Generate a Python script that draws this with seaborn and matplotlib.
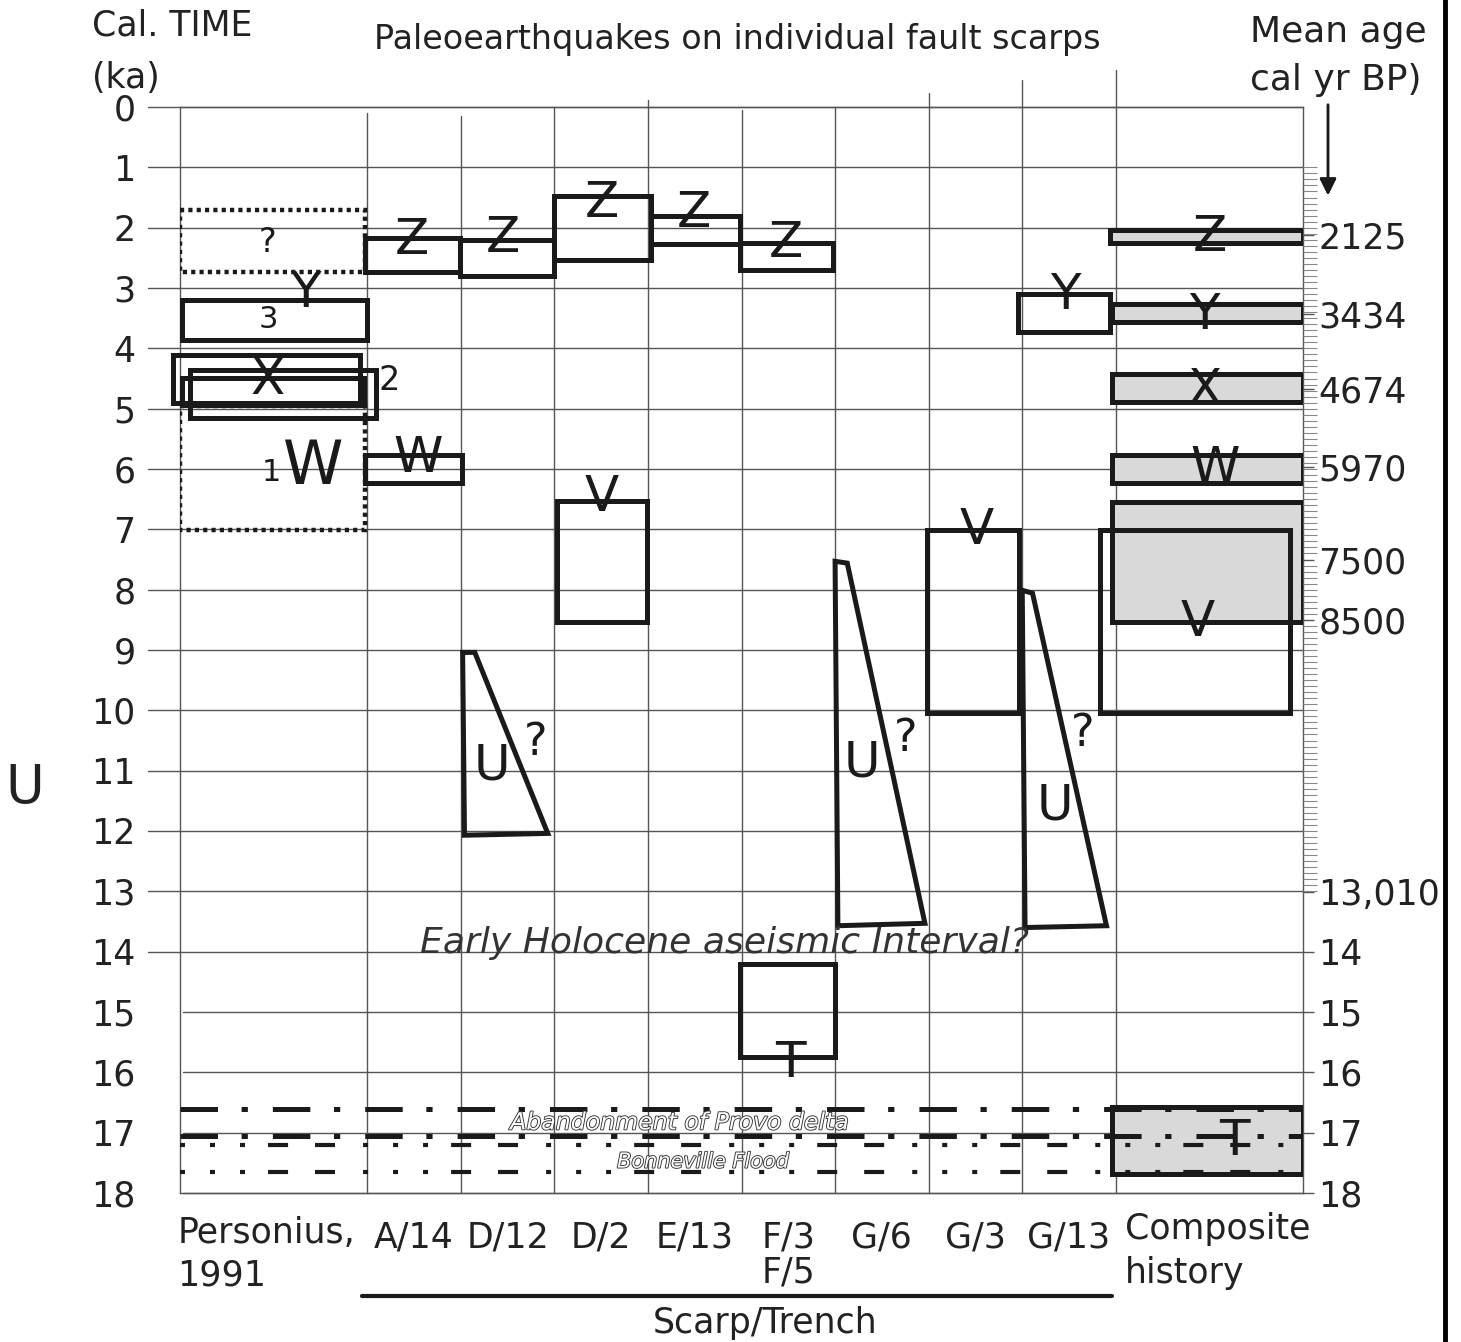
import matplotlib
matplotlib.use("Agg")
import matplotlib.pyplot as plt
import matplotlib.patheffects as pe
from matplotlib.patches import Rectangle, Polygon
from matplotlib.lines import Line2D
import numpy as np
import seaborn as sns

# --- data (x in column units: Personius and Composite columns are 2 units wide) ---
col_edges = [0, 2, 3, 4, 5, 6, 7, 8, 9, 10, 12]
scarps = ["A/14", "D/12", "D/2", "E/13", "F/3\nF/5", "G/6", "G/3", "G/13"]

age_ticks = list(range(19))
mean_age_vals = [2.125, 3.434, 4.674, 5.970, 7.5, 8.5, 13.01, 14, 15, 16, 17, 18]
mean_age_labels = ["2125", "3434", "4674", "5970", "7500", "8500", "13,010",
                   "14", "15", "16", "17", "18"]

# open event boxes: x0, x1, top (ka), bottom (ka)
trench_boxes = [
    (0.02, 2.00, 3.20, 3.86),    # Personius 3 / Y
    (-0.08, 1.92, 4.11, 4.91),   # Personius X
    (0.11, 2.09, 4.36, 5.16),    # Personius 2
    (0.02, 1.97, 4.49, 4.94),
    (1.98, 2.99, 2.17, 2.74),    # A/14 Z
    (1.98, 3.01, 5.77, 6.24),    # A/14 W
    (2.99, 4.00, 2.20, 2.80),    # D/12 Z
    (4.00, 5.03, 1.48, 2.54),    # D/2 Z
    (4.03, 4.99, 6.53, 8.54),    # D/2 V
    (5.03, 5.98, 1.81, 2.27),    # E/13 Z
    (5.98, 6.98, 2.26, 2.70),    # F/3 Z
    (5.98, 7.00, 14.20, 15.74),  # F/5 T
    (7.98, 8.97, 7.01, 10.05),   # G/3 V
    (8.95, 9.94, 3.10, 3.73),    # G/13 Y
]
personius_dotted = [(0.0, 1.98, 1.71, 2.74), (0.0, 1.98, 4.95, 7.01)]

# U wedges (x, ka)
u_wedges = [
    [(3.02, 9.04), (3.15, 9.04), (3.93, 12.04), (3.04, 12.07)],
    [(7.00, 7.53), (7.13, 7.56), (7.96, 13.53), (7.03, 13.57)],
    [(9.00, 8.01), (9.11, 8.06), (9.90, 13.57), (9.03, 13.60)],
]

composite_boxes = [
    (9.94, 12.0, 2.04, 2.26),
    (9.96, 12.0, 3.27, 3.57),
    (9.96, 12.0, 4.43, 4.89),
    (9.96, 12.0, 5.77, 6.24),
    (9.96, 12.0, 6.55, 8.54),
    (9.96, 12.0, 16.58, 17.68),
]
composite_open = [(9.83, 11.86, 7.01, 10.05)]

event_labels = [
    ("?", 0.94, 2.25, 24), ("Y", 1.34, 3.08, 36), ("3", 0.94, 3.53, 22),
    ("X", 0.94, 4.53, 36), ("2", 2.24, 4.53, 24), ("1", 0.98, 6.05, 22),
    ("W", 1.42, 5.97, 44),
    ("Z", 2.48, 2.21, 36), ("W", 2.54, 5.82, 36),
    ("Z", 3.45, 2.17, 36), ("U", 3.33, 10.91, 36), ("?", 3.80, 10.53, 32),
    ("Z", 4.51, 1.59, 36), ("V", 4.51, 6.47, 36),
    ("Z", 5.49, 1.76, 36),
    ("Z", 6.47, 2.26, 36), ("T", 6.52, 15.85, 36),
    ("U", 7.29, 10.86, 36), ("?", 7.75, 10.46, 32),
    ("V", 8.51, 7.01, 36),
    ("Y", 9.46, 3.12, 36), ("U", 9.35, 11.58, 36), ("?", 9.65, 10.38, 32),
    ("Z", 11.0, 2.16, 36), ("Y", 10.95, 3.45, 36), ("X", 10.95, 4.69, 36),
    ("W", 11.06, 5.99, 36), ("V", 10.87, 8.54, 36), ("T", 11.27, 17.13, 36),
]

shoreline_ka = [16.60, 17.05, 17.21, 17.66]

# --- style ---
sns.set_theme(style="white")
plt.rcParams["font.family"] = ["DejaVu Sans"]
plt.rcParams["lines.scale_dashes"] = False
ink = "#1a1a1a"
grid = "#555555"

W, H = 1461, 1342
fig = plt.figure(figsize=(W / 100, H / 100), dpi=100)
fig.patch.set_facecolor("white")
ax = fig.add_axes([180 / W, 1 - 1193 / H, 1123 / W, 1086 / H])
ax.set_xlim(0, 12)
ax.set_ylim(18, 0)
for s in ax.spines.values():
    s.set_linewidth(1.0)
    s.set_color(grid)

# grid lines
for k in age_ticks:
    x0 = -0.34 if k <= 14 else 0.03
    ax.plot([x0, 12], [k, k], color=grid, lw=1.0, zorder=1, clip_on=False)
vline_tops = [0.1, 0.15, 0.0, -0.12, 0.05, 0.0, -0.23, -0.45, -0.62]
for xe, yt in zip(col_edges[1:-1], vline_tops):
    ax.plot([xe, xe], [yt, 18], color=grid, lw=1.0, zorder=1, clip_on=False)

ax.set_xticks([])
ax.set_yticks(age_ticks)
ax.set_yticklabels([str(k) for k in age_ticks], fontsize=25, color="#222")
ax.tick_params(axis="y", length=0, pad=32)

rax = ax.twinx()
rax.set_ylim(18, 0)
rax.set_yticks(mean_age_vals)
rax.set_yticklabels(mean_age_labels, fontsize=25, color="#222")
rax.set_yticks(np.arange(1.0, 13.01, 0.1), minor=True)
rax.tick_params(axis="y", which="major", length=8, width=1, color=grid, pad=3)
rax.tick_params(axis="y", which="minor", length=10, width=0.8, color="#888")
for s in rax.spines.values():
    s.set_visible(False)

lw_box = 3.6
# composite (gray) first
for x0, x1, t, b in composite_boxes:
    ax.add_patch(Rectangle((x0, t), x1 - x0, b - t, facecolor="#d9d9d9",
                           edgecolor=ink, lw=lw_box, zorder=3))
for x0, x1, t, b in composite_open + trench_boxes:
    ax.add_patch(Rectangle((x0, t), x1 - x0, b - t, facecolor="none",
                           edgecolor=ink, lw=lw_box, zorder=3, clip_on=False))
for x0, x1, t, b in personius_dotted:
    ax.add_patch(Rectangle((x0, t), x1 - x0, b - t, facecolor="none",
                           edgecolor=ink, lw=3.2, ls=(0, (3, 3)), zorder=3))
for verts in u_wedges:
    ax.add_patch(Polygon(verts, closed=True, facecolor="none",
                         edgecolor=ink, lw=lw_box, zorder=3, joinstyle="miter"))

for txt, x, y, fs in event_labels:
    ax.text(x, y, txt, fontsize=fs, ha="center", va="center", color=ink,
            zorder=4, clip_on=False)

# shorelines
dash_a = (0, (27, 17, 4.5, 18))
dash_b = (0, (3.6, 18, 3.6, 18, 3.6, 16.6, 14.4, 19.4, 14.4, 20.2))
for ka, ls, lw in zip(shoreline_ka, [dash_a, dash_a, dash_b, dash_b],
                      [3.6, 3.6, 3.0, 3.0]):
    ax.plot([0, 12], [ka, ka], color=ink, lw=lw, ls=ls,
            dash_capstyle="butt", zorder=5)

outline = [pe.withStroke(linewidth=1.3, foreground="#333")]
ax.text(5.34, 16.83, "Abandonment of Provo delta", fontsize=17, style="italic",
        ha="center", va="center", color="white", path_effects=outline, zorder=6)
ax.text(5.59, 17.48, "Bonneville Flood", fontsize=15, style="italic",
        ha="center", va="center", color="white", path_effects=outline, zorder=6)
ax.text(5.82, 13.86, "Early Holocene aseismic Interval?", fontsize=26,
        style="italic", ha="center", va="center", color="#333", zorder=6)

# bottom column labels
centers = [(col_edges[i] + col_edges[i + 1]) / 2 for i in range(1, 9)]
for name, cx in zip(scarps, centers):
    ax.text(cx, 18.45, name, fontsize=25, ha="center", va="top",
            linespacing=1.05, color="#222", clip_on=False)
ax.text(-0.03, 18.38, "Personius,\n1991", fontsize=25, ha="left", va="top",
        linespacing=1.3, color="#222", clip_on=False)
ax.text(10.1, 18.32, "Composite\nhistory", fontsize=25, ha="left", va="top",
        linespacing=1.35, color="#222", clip_on=False)
ax.plot([1.94, 9.96], [19.7, 19.7], color=ink, lw=3, clip_on=False)
ax.text(6.25, 20.15, "Scarp/Trench", fontsize=25, ha="center", va="center",
        color="#222", clip_on=False)

# header texts
fig.text(92 / W, 1 - 25 / H, "Cal. TIME", fontsize=25, va="center", color="#222")
fig.text(92 / W, 1 - 78 / H, "(ka)", fontsize=25, va="center", color="#222")
fig.text(737 / W, 1 - 40 / H, "Paleoearthquakes on individual fault scarps",
         fontsize=24, ha="center", va="center", color="#222")
fig.text(1250 / W, 1 - 32 / H, "Mean age", fontsize=26, va="center", color="#222")
fig.text(1250 / W, 1 - 80 / H, "cal yr BP)", fontsize=26, va="center", color="#222")
fig.text(25 / W, 1 - 788 / H, "U", fontsize=38, ha="center", va="center", color="#222")
fig.add_artist(plt.annotate("", xy=(1328 / W, 1 - 198 / H), xytext=(1328 / W, 1 - 102 / H),
                            xycoords="figure fraction", textcoords="figure fraction",
                            arrowprops=dict(arrowstyle="-|>", color=ink, lw=1.8,
                                            mutation_scale=25)))
fig.add_artist(Line2D([1445 / W, 1445 / W], [0, 1], color="black", lw=3.5))

fig.savefig("out.png", dpi=100, facecolor="white")
